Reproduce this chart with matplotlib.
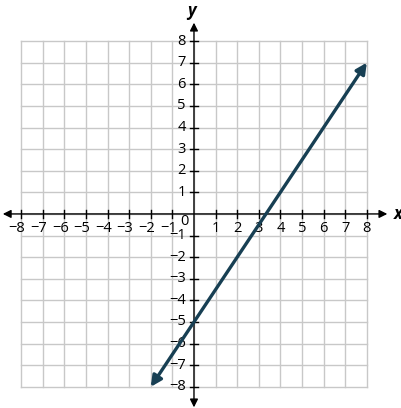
import matplotlib.pyplot as plt

# Dane
ticks = [-8, -7, -6, -5, -4, -3, -2, -1, 1, 2, 3, 4, 5, 6, 7, 8]
line_x = [-2, 8]
line_y = [-8, 7]

plt.rcParams['font.family'] = ['Open Sans', 'DejaVu Sans']

fig = plt.figure(figsize=(4.02, 4.08), dpi=100)
ax = fig.add_axes([0, 0, 1, 1])
ax.set_xlim(-8.98, 9.63)
ax.set_ylim(-8.98, 9.9)
ax.axis('off')

# Siatka
grid_c = '#c8c8c8'
for v in range(-8, 9):
    ax.plot([v, v], [-8, 8], color=grid_c, lw=1.0, zorder=1)
    ax.plot([-8, 8], [v, v], color=grid_c, lw=1.0, zorder=1)

# Osie ze strzałkami
ax.annotate('', xy=(-8.85, 0), xytext=(8.95, 0),
            arrowprops=dict(arrowstyle='<|-|>', color='black', lw=1.0,
                            mutation_scale=12, shrinkA=0, shrinkB=0), zorder=3)
ax.annotate('', xy=(0, -8.95), xytext=(0, 8.85),
            arrowprops=dict(arrowstyle='<|-|>', color='black', lw=1.0,
                            mutation_scale=12, shrinkA=0, shrinkB=0), zorder=3)

# Znaczniki i etykiety
tl = 0.18
for t in ticks:
    ax.plot([t, t], [-tl, tl], color='black', lw=1.0, zorder=3)
    ax.plot([-tl, tl], [t, t], color='black', lw=1.0, zorder=3)
    lab = str(t).replace('-', '\u2212')
    if t < 0:
        ax.text(t + 0.2, -0.33, lab, ha='right', va='top', fontsize=10.5)
    else:
        ax.text(t, -0.33, lab, ha='center', va='top', fontsize=10.5)
    ax.text(-0.38, t, lab, ha='right', va='center', fontsize=10.5)
ax.text(-0.42, -0.37, '0', ha='center', va='center', fontsize=10.5)

ax.text(9.45, 0.0, 'x', fontsize=12, fontweight='bold', style='italic',
        ha='center', va='center')
ax.text(-0.1, 9.4, 'y', fontsize=12, fontweight='bold', style='italic',
        ha='center', va='center')

# Prosta
ax.annotate('', xy=(line_x[0], line_y[0]), xytext=(line_x[1], line_y[1]),
            arrowprops=dict(arrowstyle='<|-|>', color='#173f53', lw=2.4,
                            mutation_scale=16, shrinkA=0, shrinkB=0), zorder=4)

fig.savefig('out.png', dpi=100)
